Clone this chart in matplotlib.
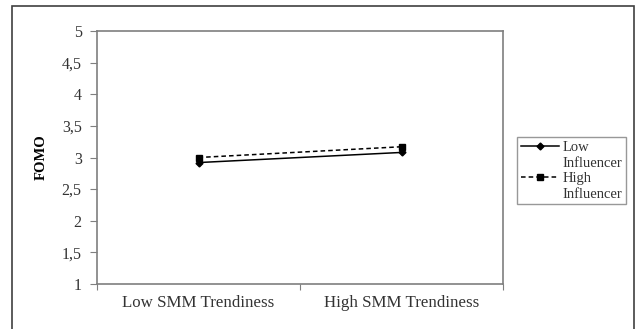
import matplotlib
matplotlib.use("Agg")
import numpy as np
import matplotlib.pyplot as plt
from matplotlib.patches import Rectangle
from matplotlib.legend_handler import HandlerLine2D

# === DATA ===
CATEGORIES = ["Low SMM Trendiness", "High SMM Trendiness"]
LOW_INFLUENCER = [2.92, 3.08]
HIGH_INFLUENCER = [3.00, 3.17]
Y_TICKS = [1, 1.5, 2, 2.5, 3, 3.5, 4, 4.5, 5]
Y_LABELS = ["1", "1,5", "2", "2,5", "3", "3,5", "4", "4,5", "5"]

plt.rcParams['font.family'] = ['Liberation Serif', 'DejaVu Serif']
AXIS_GRAY = '#7f7f7f'
TEXT_GRAY = '#333333'
LEG_FS = 10.5


# legend handles sit on the first line of the two-line labels
class TopLineHandler(HandlerLine2D):
    def create_artists(self, legend, orig_handle, xdescent, ydescent,
                       width, height, fontsize, trans):
        arts = super().create_artists(legend, orig_handle, xdescent, ydescent,
                                      width, height, fontsize, trans)
        for a in arts:
            a.set_ydata(np.asarray(a.get_ydata()) + 0.65 * fontsize)
        return arts


fig = plt.figure(figsize=(6.35, 3.29), dpi=100)

# outer frame of the chart (bottom edge runs off the picture)
fig.patches.append(Rectangle((12 / 635, -0.05), (634 - 12) / 635, 1.05 - 6 / 329,
                             transform=fig.transFigure, fill=False,
                             edgecolor='#404040', linewidth=1.2))

ax = fig.add_axes([97 / 635, 1 - 284 / 329, (503 - 97) / 635, (284 - 31) / 329])

x = list(range(len(CATEGORIES)))
ax.plot(x, LOW_INFLUENCER, '-', color='black', linewidth=1.1,
        marker='D', markersize=3.5, label='Low\nInfluencer')
ax.plot(x, HIGH_INFLUENCER, '--', color='black', linewidth=1.1, dashes=(3, 2),
        marker='s', markersize=4.5, label='High\nInfluencer')

ax.set_xlim(-0.5, len(CATEGORIES) - 0.5)
ax.set_ylim(1, 5)
ax.set_yticks(Y_TICKS)
ax.set_yticklabels(Y_LABELS)
ax.set_xticks([i - 0.5 for i in range(len(CATEGORIES) + 1)])
ax.set_xticklabels([])
ax.set_xticks(x, minor=True)
ax.set_xticklabels(CATEGORIES, minor=True)
ax.tick_params(axis='x', which='minor', length=0, pad=8, labelsize=12.2, labelcolor=TEXT_GRAY)
ax.tick_params(axis='x', which='major', length=4, color=AXIS_GRAY)
ax.tick_params(axis='y', length=5, color=AXIS_GRAY, labelsize=11.5, labelcolor=TEXT_GRAY, pad=6)

for s in ax.spines.values():
    s.set_color(AXIS_GRAY)
    s.set_linewidth(1.2)

ax.set_ylabel("FOMO", fontweight='bold', fontsize=10.5, labelpad=10)

handler = TopLineHandler()
leg = fig.legend(loc='upper left', bbox_to_anchor=(517 / 635, 1 - 137 / 329),
                 fontsize=LEG_FS, frameon=True, fancybox=False, handlelength=2.6,
                 handletextpad=0.3, borderpad=0.25, labelspacing=0.15,
                 borderaxespad=0,
                 handler_map={ln: handler for ln in ax.get_lines()})
leg.get_frame().set_edgecolor(AXIS_GRAY)
leg.get_frame().set_linewidth(1.0)
for t in leg.get_texts():
    t.set_color(TEXT_GRAY)
    t.set_linespacing(1.3)

fig.savefig("out.png", dpi=100)
